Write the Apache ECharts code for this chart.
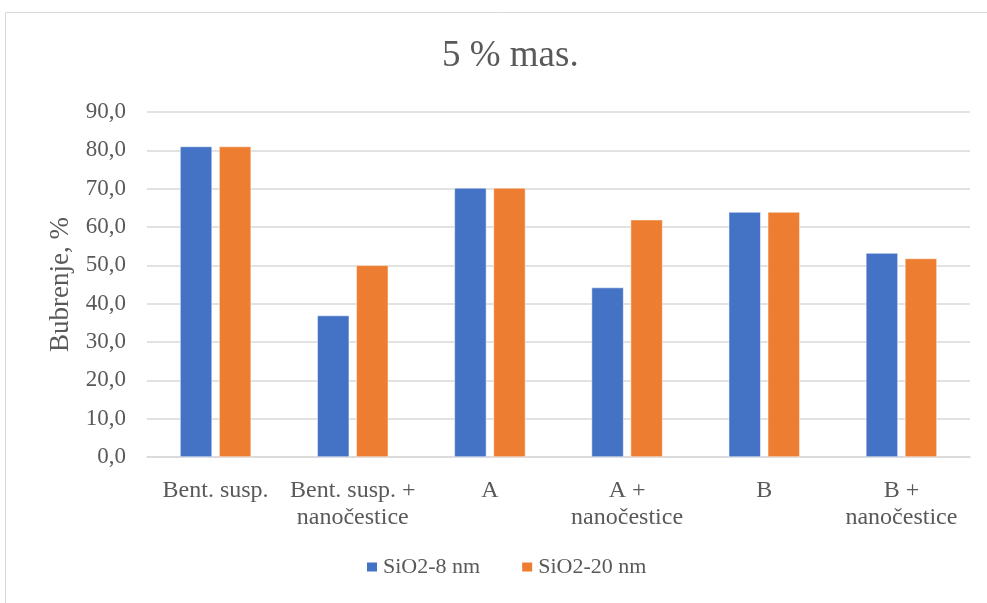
<!DOCTYPE html>
<html><head><meta charset="utf-8">
<script src="https://cdn.jsdelivr.net/npm/echarts@6/dist/echarts.min.js"></script>
<style>html,body{margin:0;padding:0;background:#fff}#c{width:987px;height:603px}</style>
</head><body><div id="c"></div>
<script>
var categories = ['Bent. susp.', 'Bent. susp. +\nnanočestice', 'A', 'A +\nnanočestice', 'B', 'B +\nnanočestice'];
var seriesNames = ['SiO2-8 nm', 'SiO2-20 nm'];
var sio2_8 = [81.0, 36.9, 70.2, 44.2, 63.9, 53.2];
var sio2_20 = [81.0, 50.0, 70.2, 61.9, 63.9, 51.8];
var yTicks = {min: 0, max: 90, interval: 10};

var font = '"Liberation Serif", "Times New Roman", serif';
var chart = echarts.init(document.getElementById('c'));
chart.setOption({
  animation: false,
  graphic: [{type: 'rect', shape: {x: 5.5, y: 12.5, width: 990, height: 600}, style: {fill: 'none', stroke: '#d9d9d9', lineWidth: 1}}],
  title: {text: '5 % mas.', left: 437, top: 33, textStyle: {fontFamily: font, fontSize: 37, fontWeight: 'normal', color: '#595959'}},
  legend: {data: seriesNames, bottom: 20, left: 360, itemWidth: 12, itemHeight: 11, itemGap: 40, icon: 'rect',
    textStyle: {fontFamily: font, fontSize: 22, color: '#595959'}},
  grid: {left: 147, right: 17, top: 112, bottom: 146},
  xAxis: {type: 'category', data: categories,
    axisLine: {lineStyle: {color: '#d9d9d9', width: 1.5}}, axisTick: {show: false},
    axisLabel: {fontFamily: font, fontSize: 24, color: '#595959', margin: 20, lineHeight: 27, interval: 0}},
  yAxis: {type: 'value', min: yTicks.min, max: yTicks.max, interval: yTicks.interval,
    name: 'Bubrenje, %', nameLocation: 'middle', nameGap: 72, nameRotate: 90,
    nameTextStyle: {fontFamily: font, fontSize: 27, color: '#595959'},
    axisLine: {show: false}, axisTick: {show: false},
    axisLabel: {fontFamily: font, fontSize: 23, color: '#595959', margin: 21, formatter: function(v){return v.toFixed(1).replace('.', ',');}},
    splitLine: {lineStyle: {color: '#d9d9d9', width: 1.5}}},
  series: [
    {name: seriesNames[0], type: 'bar', data: sio2_8, barWidth: 32, barGap: '22%', itemStyle: {color: '#4472c4', borderColor: '#fff', borderWidth: 0.5}},
    {name: seriesNames[1], type: 'bar', data: sio2_20, barWidth: 32, itemStyle: {color: '#ed7d31', borderColor: '#fff', borderWidth: 0.5}}
  ]
});
</script></body></html>
